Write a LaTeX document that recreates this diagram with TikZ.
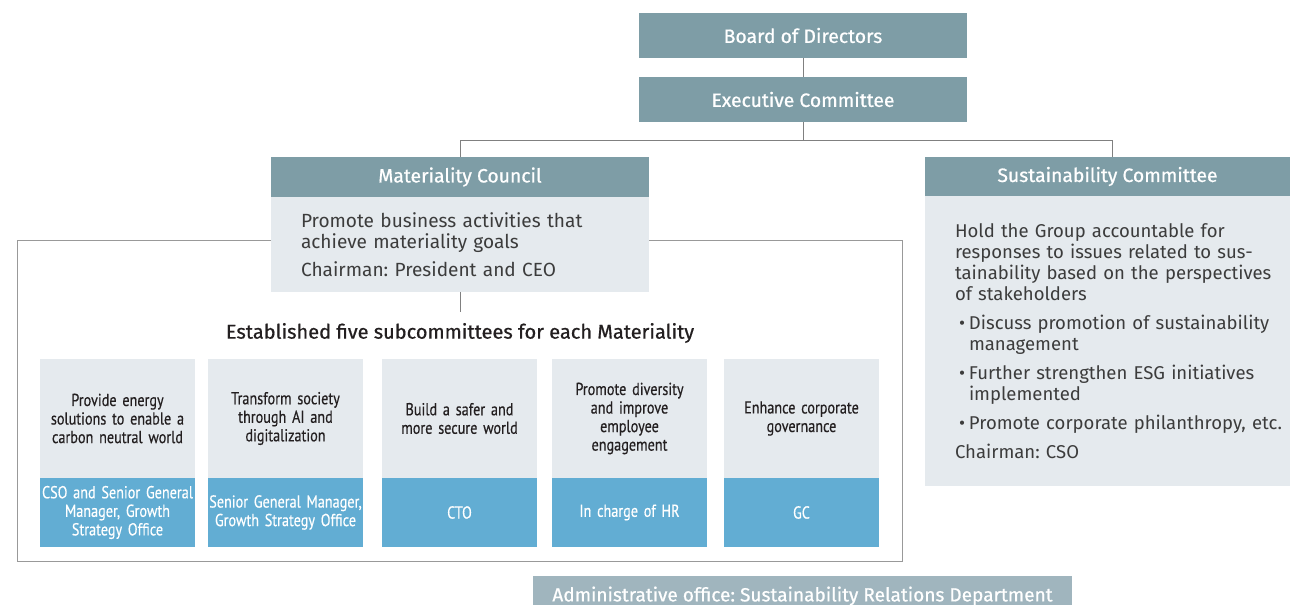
\documentclass[tikz,border=0pt]{standalone}
\usepackage{fontspec}
\setmainfont{Fira Sans}
\newfontfamily\orgmed[FakeBold=0.7]{Fira Sans}
\newfontfamily\orgcond[FakeStretch=0.82,FakeBold=0.4]{PT Sans}
\usetikzlibrary{positioning}
\frenchspacing
\definecolor{ORGhead}{RGB}{126,157,166}
\definecolor{ORGpale}{RGB}{229,234,238}
\definecolor{ORGblue}{RGB}{98,173,211}
\definecolor{ORGadmin}{RGB}{160,181,190}
\definecolor{ORGline}{RGB}{128,128,128}
\definecolor{ORGtext}{RGB}{60,60,60}
\definecolor{ORGdark}{RGB}{35,31,32}
\newcommand\orgbullet{\makebox[10.5pt][l]{\hspace{3pt}•}}
\tikzset{
  org head/.style={
    fill=ORGhead,
    text=white,
    inner sep=0pt,
    outer sep=0pt,
    minimum width=246pt,
    minimum height=33.75pt,
    font=\orgmed\fontsize{14.5}{16}\selectfont
  },
  org body/.style={
    fill=ORGpale,
    text=ORGtext,
    inner ysep=0pt,
    outer sep=0pt,
    align=left,
    font=\fontsize{14.3}{15.75}\selectfont
  },
  org topic/.style={
    fill=ORGpale,
    text=ORGdark,
    minimum width=116.25pt,
    minimum height=89.25pt,
    text width=116pt,
    inner sep=0pt,
    outer sep=0pt,
    align=center,
    font=\orgcond\fontsize{13}{13.9}\selectfont
  },
  org lead/.style={org topic,fill=ORGblue,text=white,minimum height=51.75pt},
  org line/.style={draw=ORGline,line width=0.75pt},
  org frame/.style={draw=ORGline!80,line width=0.75pt}
}

\begin{document}
\begin{tikzpicture}[x=0.75pt,y=-0.75pt]
  \useasboundingbox[fill=white] (0,0) rectangle (1290,605);

  % frame round the subcommittees
  \draw[org frame] (17,241) rectangle (902,562);

  \node[org head] (board) at (803,35.5) {Board of Directors};
  \node[org head] (exec) at (803,99.5) {Executive Committee};

  \node[org head,minimum width=283.5pt,minimum height=30pt] (mat-head) at (460,177)
    {Materiality Council};
  \node[org body,text width=238.5pt,inner xsep=22.5pt,minimum height=71.25pt,
    below=0pt of mat-head] (mat-body) {
    Promote business activities that\\
    achieve materiality goals\\[5pt]
    Chairman: President and CEO
  };

  \node[org head,minimum width=273.75pt,minimum height=29.25pt] (sust-head) at (1107.5,176.5)
    {Sustainability Committee};
  \node[org body,text width=228.75pt,inner xsep=22.5pt,minimum height=217.5pt,
    font=\fontsize{13.9}{15.75}\selectfont,below=0pt of sust-head] (sust-body) {
    \mbox{Hold the Group accountable for}\\
    \mbox{responses to issues related to sus-}\\
    \mbox{tainability based on the perspectives}\\
    of stakeholders\\[6pt]
    \mbox{\orgbullet Discuss promotion of sustainability}\\
    \hspace*{10.5pt}management\\[6pt]
    \mbox{\orgbullet Further strengthen ESG initiatives}\\
    \hspace*{10.5pt}implemented\\[6pt]
    \mbox{\orgbullet Promote corporate philanthropy, etc.}\\[6pt]
    Chairman: CSO
  };

  \coordinate (split) at (803,141);
  \draw[org line] (board) -- (exec);
  \draw[org line] (exec) -- (split);
  \draw[org line] (split) -| (mat-head.north);
  \draw[org line] (split) -| ([xshift=4.1pt]sust-head.north);

  \node[font=\orgmed\fontsize{15}{16}\selectfont,text=ORGdark,inner sep=8pt] (sub-title)
    at (460,333) {Established five subcommittees for each Materiality};
  \draw[org line] (mat-body) -- (sub-title);

  \node[org topic] (topic-energy) at (117.5,418.5)
    {Provide energy\\solutions to enable a\\carbon neutral world};
  \node[org lead,below=0pt of topic-energy] (lead-energy)
    {CSO and Senior General\\Manager, Growth\\Strategy Office};

  \node[org topic] (topic-digital) at (285.5,418.5)
    {Transform society\\through AI and\\digitalization};
  \node[org lead,below=0pt of topic-digital] (lead-digital)
    {Senior General Manager,\\Growth Strategy Office};

  \node[org topic] (topic-safety) at (459.5,418.5)
    {Build a safer and\\more secure world};
  \node[org lead,below=0pt of topic-safety] (lead-safety) {CTO};

  \node[org topic] (topic-diversity) at (629.5,418.5)
    {Promote diversity\\and improve\\employee\\engagement};
  \node[org lead,below=0pt of topic-diversity] (lead-diversity) {In charge of HR};

  \node[org topic] (topic-governance) at (801.5,418.5)
    {Enhance corporate\\governance};
  \node[org lead,below=0pt of topic-governance] (lead-governance) {GC};

  \node[fill=ORGadmin,text=white,minimum width=404.25pt,minimum height=30pt,inner sep=0pt,
    font=\orgmed\fontsize{14.3}{15}\selectfont] (admin) at (802.5,596)
    {Administrative office: Sustainability Relations Department};
\end{tikzpicture}
\end{document}
